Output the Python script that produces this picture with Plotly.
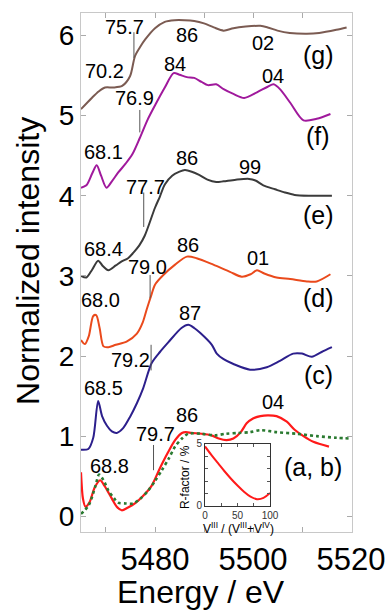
import plotly.graph_objects as go

# ---------------- data ----------------
energy_g = [5464.9, 5467.1, 5468.5, 5469.8, 5471.5, 5473.3, 5474.9, 5475.9, 5476.9, 5478.0,
            5480.0, 5482.0, 5484.0, 5486.0, 5488.0, 5490.0, 5492.0, 5494.0, 5496.0, 5498.5,
            5501.5, 5503.0, 5505.0, 5507.5, 5511.0, 5513.5, 5517.0, 5519.1]
norm_g = [5.08, 5.22, 5.30, 5.35, 5.35, 5.37, 5.49, 5.74, 5.85, 5.95,
          6.09, 6.17, 6.19, 6.19, 6.18, 6.15, 6.10, 6.06, 6.09, 6.11,
          6.12, 6.10, 6.06, 6.03, 6.02, 6.03, 6.07, 6.10]

energy_f = [5464.9, 5466.0, 5467.2, 5468.1, 5469.0, 5470.1, 5471.2, 5472.5, 5474.0, 5475.4,
            5476.9, 5478.5, 5480.2, 5482.0, 5483.8, 5485.0, 5486.5, 5488.0, 5489.5, 5490.8,
            5492.5, 5494.0, 5496.0, 5498.2, 5500.8, 5503.0, 5504.2, 5505.5, 5507.6, 5510.3,
            5513.0, 5515.8]
norm_f = [4.10, 4.13, 4.28, 4.38, 4.25, 4.10, 4.18, 4.29, 4.40, 4.52,
          4.72, 4.95, 5.15, 5.35, 5.53, 5.51, 5.48, 5.47, 5.42, 5.38,
          5.39, 5.33, 5.27, 5.22, 5.29, 5.36, 5.39, 5.33, 5.16, 4.94,
          4.96, 5.02]

energy_e = [5464.9, 5466.0, 5467.2, 5468.4, 5469.4, 5470.5, 5472.0, 5473.2, 5474.5, 5475.6,
            5476.8, 5477.9, 5480.0, 5481.0, 5482.0, 5483.5, 5485.0, 5486.1, 5487.5, 5489.0,
            5490.7, 5492.5, 5494.0, 5496.5, 5499.2, 5500.5, 5502.1, 5504.5, 5506.5, 5508.5,
            5511.6, 5516.1]
norm_e = [3.00, 2.98, 3.08, 3.19, 3.12, 3.07, 3.13, 3.18, 3.22, 3.29,
          3.38, 3.50, 3.85, 3.99, 4.14, 4.25, 4.30, 4.32, 4.30, 4.26,
          4.20, 4.17, 4.18, 4.20, 4.21, 4.19, 4.13, 4.08, 4.04, 4.01,
          4.00, 4.00]

energy_d = [5464.9, 5465.7, 5466.5, 5467.4, 5468.0, 5468.7, 5469.5, 5470.5, 5472.0, 5474.2,
            5476.3, 5477.5, 5478.3, 5479.2, 5480.0, 5481.7, 5484.1, 5486.5, 5488.5, 5491.9,
            5495.3, 5497.7, 5499.5, 5500.8, 5502.3, 5504.8, 5507.6, 5511.0, 5513.0, 5515.8]
norm_d = [2.20, 2.15, 2.25, 2.50, 2.51, 2.35, 2.12, 2.11, 2.14, 2.18,
          2.28, 2.42, 2.58, 2.75, 2.89, 3.01, 3.14, 3.24, 3.22, 3.14,
          3.05, 2.99, 3.02, 3.07, 3.03, 2.98, 2.96, 2.93, 2.93, 3.02]

energy_c = [5464.9, 5466.4, 5467.4, 5468.4, 5469.2, 5470.2, 5471.2, 5472.2, 5473.5, 5474.9,
            5476.3, 5477.6, 5479.3, 5481.0, 5482.7, 5485.4, 5486.8, 5488.0, 5489.2, 5491.6,
            5492.6, 5494.0, 5496.0, 5499.4, 5502.8, 5505.5, 5508.2, 5510.0, 5512.0, 5514.0,
            5516.1]
norm_c = [0.83, 0.84, 0.98, 1.44, 1.25, 1.13, 1.06, 1.04, 1.10, 1.24,
          1.41, 1.60, 1.91, 2.05, 2.17, 2.35, 2.39, 2.35, 2.29, 2.14,
          2.03, 1.96, 1.90, 1.83, 1.86, 1.94, 2.03, 2.03, 1.99, 2.05,
          2.11]

energy_b = [5464.9, 5465.3, 5465.8, 5466.6, 5467.7, 5468.8, 5469.7, 5471.2, 5472.2, 5473.2,
            5474.5, 5475.9, 5477.5, 5479.3, 5481.0, 5482.5, 5484.1, 5485.5, 5486.3, 5487.5,
            5489.5, 5491.5, 5493.0, 5494.6, 5496.0, 5497.5, 5498.7, 5500.0, 5501.5, 5503.0,
            5504.8, 5506.9, 5508.5, 5510.3, 5512.3, 5515.5]
norm_b = [0.55, 0.22, 0.12, 0.17, 0.36, 0.45, 0.38, 0.22, 0.12, 0.075,
          0.11, 0.16, 0.25, 0.38, 0.60, 0.78, 0.95, 1.04, 1.05, 1.04,
          1.03, 1.01, 0.97, 0.95, 0.97, 1.05, 1.16, 1.22, 1.25, 1.26,
          1.25, 1.18, 1.08, 1.00, 0.93, 0.87]

energy_a = [5464.9, 5466.5, 5467.8, 5468.6, 5469.5, 5470.5, 5471.7, 5472.5, 5474.0, 5475.5,
            5477.0, 5478.6, 5480.0, 5481.4, 5482.8, 5484.1, 5485.5, 5486.8, 5489.5, 5492.2,
            5494.5, 5497.0, 5499.4, 5501.5, 5504.8, 5508.9, 5513.0, 5517.0, 5520.0]
norm_a = [0.03, 0.14, 0.37, 0.52, 0.45, 0.32, 0.22, 0.17, 0.16, 0.16,
          0.22, 0.32, 0.44, 0.575, 0.72, 0.87, 0.97, 1.03, 1.03, 1.01,
          1.03, 1.04, 1.05, 1.075, 1.05, 1.03, 1.00, 0.98, 0.97]

# inset: R-factor vs V(III) fraction
frac_v3 = [0, 10, 20, 30, 40, 50, 60, 70, 80, 90, 100]
r_factor = [4.8, 4.1, 3.45, 2.8, 2.2, 1.65, 1.15, 0.75, 0.55, 0.65, 1.05]

# edge-position markers (eV) and their vertical extent
edge_E = [5475.7, 5476.9, 5477.7, 5479.0, 5479.2, 5479.7]
edge_lo = [5.72, 4.79, 3.61, 2.72, 1.82, 0.575]
edge_hi = [6.04, 5.07, 4.04, 3.01, 2.14, 0.89]

# peak labels: text, energy, ordinate
label_text = ["75.7", "70.2", "86", "02", "76.9", "84", "04", "68.1",
              "77.7", "86", "99", "68.4", "79.0", "86", "01", "68.0",
              "79.2", "87", "68.5", "04", "86", "79.7", "68.8"]
label_E = [5473.7, 5469.6, 5486.5, 5502.0, 5475.9, 5484.1, 5504.1, 5469.4,
           5478.0, 5486.5, 5499.4, 5469.4, 5478.4, 5486.7, 5501.0, 5468.8,
           5474.9, 5487.1, 5469.4, 5504.1, 5486.5, 5480.2, 5470.8]
label_y = [6.10, 5.56, 6.01, 5.91, 5.22, 5.64, 5.50, 4.54,
           4.11, 4.47, 4.36, 3.34, 3.11, 3.39, 3.22, 2.70,
           1.95, 2.54, 1.60, 1.42, 1.26, 1.03, 0.63]

panel_text = ["(g)", "(f)", "(e)", "(d)", "(c)", "(a, b)"]
panel_E = [5513.3, 5513.3, 5513.3, 5513.3, 5513.3, 5512.2]
panel_y = [5.76, 4.74, 3.76, 2.72, 1.76, 0.61]

FONT = "Liberation Sans, Arial, Helvetica, sans-serif"

fig = go.Figure()

series = [
    (energy_g, norm_g, "#7b5b52", "solid", 2),
    (energy_f, norm_f, "#a0199c", "solid", 2),
    (energy_e, norm_e, "#3b3b3b", "solid", 2),
    (energy_d, norm_d, "#ea4a1c", "solid", 2),
    (energy_c, norm_c, "#2c1f8c", "solid", 2),
    (energy_b, norm_b, "#ff1a1a", "solid", 2.2),
    (energy_a, norm_a, "#2a7a30", "dot", 2.6),
]
for xs, ys, col, dash, w in series:
    fig.add_trace(go.Scatter(x=xs, y=ys, mode="lines",
                             line=dict(color=col, width=w, dash=dash, shape="spline", smoothing=0.8),
                             showlegend=False, hoverinfo="skip"))

# inset curve
fig.add_trace(go.Scatter(x=frac_v3, y=r_factor, mode="lines", xaxis="x2", yaxis="y2",
                         line=dict(color="#ff1a1a", width=2, shape="spline"),
                         showlegend=False, hoverinfo="skip"))

shapes = []
for e, lo, hi in zip(edge_E, edge_lo, edge_hi):
    shapes.append(dict(type="line", xref="x", yref="y", x0=e, x1=e, y0=lo, y1=hi,
                       line=dict(color="#555555", width=1)))

annotations = []
for t, e, y in zip(label_text, label_E, label_y):
    annotations.append(dict(x=e, y=y, xref="x", yref="y", text=t, showarrow=False,
                            font=dict(family=FONT, size=20, color="black")))
for t, e, y in zip(panel_text, panel_E, panel_y):
    annotations.append(dict(x=e, y=y, xref="x", yref="y", text=t, showarrow=False,
                            font=dict(family=FONT, size=25, color="black")))

# axis titles
annotations.append(dict(x=0.443, y=-0.116, xref="paper", yref="paper", text="Energy / eV",
                        xanchor="center", yanchor="middle",
                        showarrow=False, font=dict(family=FONT, size=32, color="black")))
annotations.append(dict(x=-0.196, y=0.522, xref="paper", yref="paper", text="Normalized intensity",
                        xanchor="center", yanchor="middle",
                        textangle=-90, showarrow=False, font=dict(family=FONT, size=32, color="black")))
# inset titles
annotations.append(dict(x=0.58, y=0.0085, xref="paper", yref="paper",
                        text="V<sup>III</sup> / (V<sup>III</sup>+V<sup>IV</sup>)",
                        xanchor="center", yanchor="middle",
                        showarrow=False, font=dict(family=FONT, size=12, color="black")))
annotations.append(dict(x=0.384, y=0.106, xref="paper", yref="paper", text="R-factor / %",
                        xanchor="center", yanchor="middle",
                        textangle=-90, showarrow=False, font=dict(family=FONT, size=12, color="black")))

fig.update_layout(
    width=390, height=610,
    margin=dict(l=81, r=38, t=13, b=78),
    paper_bgcolor="white", plot_bgcolor="white",
    showlegend=False,
    shapes=shapes, annotations=annotations,
    xaxis=dict(range=[5464.9, 5520.2], tickvals=[5480, 5500, 5520],
               ticks="inside", ticklen=5, tickcolor="#aaaaaa", showline=True,
               linecolor="#c8c8c8", linewidth=1, mirror="ticks", showgrid=False, zeroline=False,
               minor=dict(tickvals=[5470, 5490, 5510], ticks="inside", ticklen=5, tickcolor="#aaaaaa"),
               automargin=False,
               tickfont=dict(family=FONT, size=31, color="black")),
    yaxis=dict(range=[-0.196, 6.28], tickvals=[0, 1, 2, 3, 4, 5, 6],
               ticks="inside", ticklen=5, tickcolor="#aaaaaa", showline=True,
               linecolor="#c8c8c8", linewidth=1, mirror="ticks", showgrid=False, zeroline=False,
               automargin=False,
               tickfont=dict(family=FONT, size=28, color="black")),
    xaxis2=dict(domain=[0.4576, 0.6974], anchor="y2", range=[0, 100],
                tickvals=[0, 50, 100],
                minor=dict(tickvals=[25, 75], ticks="inside", ticklen=3, tickcolor="#555"),
                ticks="inside", ticklen=3, tickcolor="#555", showline=True, linecolor="#333",
                linewidth=1, mirror="ticks", showgrid=False, zeroline=False, automargin=False,
                ticklabelstandoff=0,
                tickfont=dict(family=FONT, size=10, color="#333")),
    yaxis2=dict(domain=[0.0501, 0.1696], anchor="x2", range=[0, 5],
                tickvals=[0, 5],
                minor=dict(tickvals=[1, 2, 3, 4], ticks="inside", ticklen=3, tickcolor="#555"),
                ticks="inside", ticklen=3, tickcolor="#555", showline=True, linecolor="#333",
                linewidth=1, mirror="ticks", showgrid=False, zeroline=False, automargin=False,
                tickfont=dict(family=FONT, size=10, color="#333")),
)

fig.write_html("out.html", config={"displayModeBar": False},
               post_script="document.body.style.margin='0';document.body.style.padding='0';")
